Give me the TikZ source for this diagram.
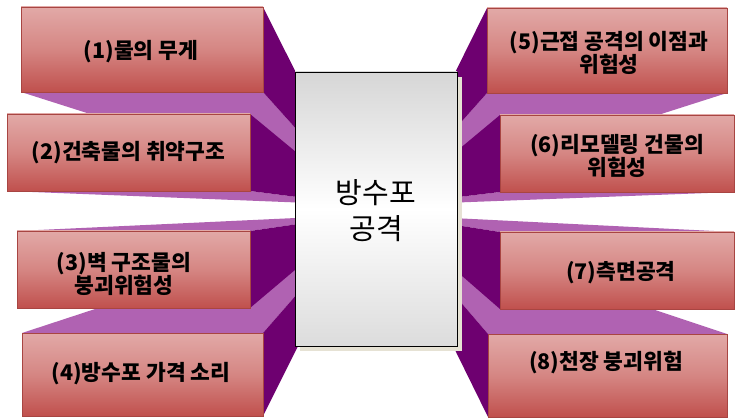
\documentclass[tikz,border=0pt]{standalone}
\usepackage{fontspec}
\newfontfamily\kr{Noto Sans CJK KR}
\usetikzlibrary{calc,fit}
\definecolor{sidedark}{HTML}{6E0070}
\definecolor{sidelight}{HTML}{B062B2}
\definecolor{fronttop}{HTML}{E2A9A7}
\definecolor{frontmid}{HTML}{D58683}
\definecolor{frontbot}{HTML}{C0504D}
\definecolor{frontline}{HTML}{A84542}
\definecolor{shadowbeige}{HTML}{E6E2D4}
\definecolor{centergrey}{HTML}{D6D6D6}
\newcommand\pface[4]{\fill[#4] (#1) -- (#2) -- ($(#2)!0.9!(#3)$) -- ($(#1)!0.9!(#3)$) -- cycle;}
\newcommand\pcorners[5]{%
  \coordinate (#1a) at (#2,#3);
  \coordinate (#1b) at (#4,#3);
  \coordinate (#1c) at (#4,#5);
  \coordinate (#1d) at (#2,#5);}
\tikzset{
  frontface/.style={inner sep=0pt, outer sep=0pt, top color=fronttop, bottom color=frontbot, middle color=frontmid, draw=frontline, line width=0.3pt},
  lbl/.style={font=\kr\bfseries\fontsize{21.5}{22}\selectfont, align=center, text=black, inner sep=0pt},
  centerbox/.style={inner sep=0pt, outer sep=0pt, top color=centergrey, bottom color=centergrey!85, middle color=white, draw=black, line width=0.8pt},
  centertext/.style={font=\kr\fontsize{29}{36}\selectfont, align=center, text=black, inner sep=0pt}
}
\begin{document}
\begin{tikzpicture}[x=1pt,y=-1pt]
\useasboundingbox (0,0) rectangle (735,419);
% vanishing points
\coordinate (v1) at (360,200);
\coordinate (v2) at (360,205);
\coordinate (v3) at (360,215);
\coordinate (v4) at (360,222);
\coordinate (v5) at (392,200);
\coordinate (v6) at (392,205);
\coordinate (v7) at (392,215);
\coordinate (v8) at (392,222);
% corners
\pcorners{b1}{21}{7}{263}{92}
\pcorners{b2}{7}{114}{250}{191}
\pcorners{b3}{17}{231}{250}{308}
\pcorners{b4}{22}{333}{263}{416}
\pcorners{b5}{487}{8}{727}{93}
\pcorners{b6}{500}{115}{734}{192}
\pcorners{b7}{500}{232}{734}{309}
\pcorners{b8}{488}{334}{727}{417}
% left upper
\pface{b1d}{b1c}{v1}{sidelight}
\pface{b1b}{b1c}{v1}{sidedark}
\node[frontface, fit=(b1a)(b1c)] (f1) {};
\pface{b2d}{b2c}{v2}{sidelight}
\pface{b2b}{b2c}{v2}{sidedark}
\node[frontface, fit=(b2a)(b2c)] (f2) {};
% left lower
\pface{b4a}{b4b}{v4}{sidelight}
\pface{b4b}{b4c}{v4}{sidedark}
\node[frontface, fit=(b4a)(b4c)] (f4) {};
\pface{b3a}{b3b}{v3}{sidelight}
\pface{b3b}{b3c}{v3}{sidedark}
\node[frontface, fit=(b3a)(b3c)] (f3) {};
% right upper
\pface{b5d}{b5c}{v5}{sidelight}
\pface{b5a}{b5d}{v5}{sidedark}
\node[frontface, fit=(b5a)(b5c)] (f5) {};
\pface{b6d}{b6c}{v6}{sidelight}
\pface{b6a}{b6d}{v6}{sidedark}
\node[frontface, fit=(b6a)(b6c)] (f6) {};
% right lower
\pface{b8a}{b8b}{v8}{sidelight}
\pface{b8a}{b8d}{v8}{sidedark}
\node[frontface, fit=(b8a)(b8c)] (f8) {};
\pface{b7a}{b7b}{v7}{sidelight}
\pface{b7a}{b7d}{v7}{sidedark}
\node[frontface, fit=(b7a)(b7c)] (f7) {};
% center box
\coordinate (sa) at (300,77);
\coordinate (sb) at (462,351);
\fill[shadowbeige] (sa) rectangle (sb);
\coordinate (ca) at (295,72);
\coordinate (cb) at (457,346);
\node[centerbox, fit=(ca)(cb)] (center) {};
\node[centertext] (ct) at (376,210.5) {방수포\\공격};
% labels
\node[lbl] (t1) at (141,52) {(1)물의 무게};
\node[lbl] (t2) at (128.5,153) {(2)건축물의 취약구조};
\node[lbl] (t3) at (124,274) {(3)벽 구조물의\\붕괴위험성};
\node[lbl] (t4) at (141,374) {(4)방수포 가격 소리};
\node[lbl] (t5) at (609,53) {(5)근접 공격의 이점과\\위험성};
\node[lbl] (t6) at (617,156) {(6)리모델링 건물의\\위험성};
\node[lbl] (t7) at (621,273) {(7)측면공격};
\node[lbl] (t8) at (606,363) {(8)천장 붕괴위험};
\end{tikzpicture}
\end{document}
